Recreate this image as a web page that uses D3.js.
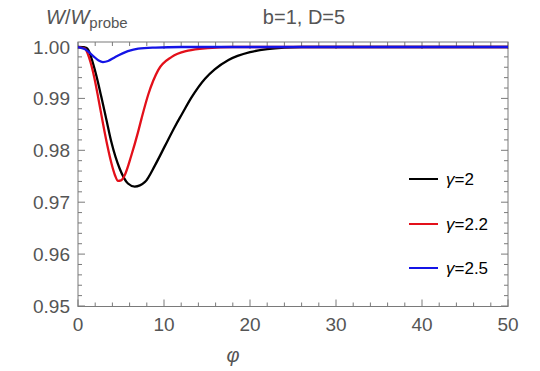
<!DOCTYPE html>
<html>
<head>
<meta charset="utf-8">
<script src="https://cdn.jsdelivr.net/npm/d3@7"></script>
<style>
  body { margin: 0; background: #fff; }
  text { font-family: "Liberation Sans", Arial, sans-serif; }
</style>
</head>
<body>
<script>
'use strict';

// values
const phiG20 = [0, 0.9, 1.3, 1.55, 2.13, 2.71, 3.29, 3.88, 4.84, 5.81, 6.6, 7.79, 8.95, 10.1, 11.28, 12.06, 13.2, 14.77, 15.9, 17.5, 20, 22, 24, 26, 50];
const wG20   = [0.9999, 0.9998, 0.9990, 0.9978, 0.9944, 0.9903, 0.9860, 0.9816, 0.9765, 0.9736, 0.9730, 0.9739, 0.9771, 0.9808, 0.9846, 0.9869, 0.9902, 0.9938, 0.9956, 0.9974, 0.9989, 0.9995, 0.9998, 0.9999, 0.9999];

const phiG22 = [0, 0.8, 1.3, 1.9, 2.4, 2.9, 3.4, 3.9, 4.3, 4.65, 5.0, 5.43, 6.2, 6.98, 7.4, 8.18, 9.34, 10.9, 12.8, 15.1, 18, 50];
const wG22   = [0.9999, 0.9996, 0.9978, 0.9940, 0.9897, 0.9852, 0.9810, 0.9774, 0.9752, 0.9741, 0.9742, 0.9752, 0.9790, 0.9835, 0.9862, 0.9908, 0.9955, 0.9980, 0.9992, 0.9997, 0.9999, 0.9999];

const phiG25 = [0, 0.78, 1.74, 2.4, 2.9, 3.5, 4.26, 5.8, 7.0, 9, 12, 50];
const wG25   = [0.9999, 0.9995, 0.9982, 0.9973, 0.9970, 0.9972, 0.9979, 0.9991, 0.9996, 0.9998, 0.9999, 0.9999];

const seriesNames  = ['γ=2', 'γ=2.2', 'γ=2.5'];
const seriesColors = ['#000000', '#e3101a', '#1414e6'];

const xTicks = [0, 10, 20, 30, 40, 50];
const yTicks = [0.95, 0.96, 0.97, 0.98, 0.99, 1.00];

const W = 540, H = 371;
const plot = {left: 78, right: 508, top: 42, bottom: 306.5};

const svg = d3.select('body').append('svg')
  .attr('width', W)
  .attr('height', H);

const x = d3.scaleLinear().domain([0, 50]).range([plot.left, plot.right]);
const y = d3.scaleLinear().domain([0.95, 1.0]).range([306, 46.5]);

const frameColor = '#7a7a7a';
const labelColor = '#555555';

// frame
svg.append('rect')
  .attr('x', plot.left).attr('y', plot.top)
  .attr('width', plot.right - plot.left)
  .attr('height', plot.bottom - plot.top)
  .attr('fill', 'none')
  .attr('stroke', frameColor)
  .attr('stroke-width', 1);

// ticks, inward on all four sides
const xMinor = d3.range(0, 50.001, 2).filter(v => v % 10 !== 0);
const yMinor = d3.range(0, 26).map(i => 0.95 + i * 0.002).filter((v, i) => i % 5 !== 0);

function tickLines(vals, len, horizontal) {
  vals.forEach(v => {
    if (horizontal) {
      const px = x(v);
      svg.append('line').attr('x1', px).attr('x2', px).attr('y1', plot.bottom).attr('y2', plot.bottom - len)
        .attr('stroke', frameColor).attr('stroke-width', 1);
      svg.append('line').attr('x1', px).attr('x2', px).attr('y1', plot.top).attr('y2', plot.top + len)
        .attr('stroke', frameColor).attr('stroke-width', 1);
    } else {
      const py = y(v);
      svg.append('line').attr('x1', plot.left).attr('x2', plot.left + len).attr('y1', py).attr('y2', py)
        .attr('stroke', frameColor).attr('stroke-width', 1);
      svg.append('line').attr('x1', plot.right).attr('x2', plot.right - len).attr('y1', py).attr('y2', py)
        .attr('stroke', frameColor).attr('stroke-width', 1);
    }
  });
}
tickLines(xTicks, 7, true);
tickLines(xMinor, 4, true);
tickLines(yTicks, 7, false);
tickLines(yMinor, 4, false);

// tick labels
svg.selectAll('.xlab').data(xTicks).enter().append('text')
  .attr('x', d => x(d))
  .attr('y', 331)
  .attr('text-anchor', 'middle')
  .attr('fill', labelColor)
  .style('font-size', '19px')
  .text(d => d);

svg.selectAll('.ylab').data(yTicks).enter().append('text')
  .attr('x', 70)
  .attr('y', d => y(d) + 7)
  .attr('text-anchor', 'end')
  .attr('fill', labelColor)
  .style('font-size', '19px')
  .text(d => d3.format('.2f')(d));

// curves
const line = d3.line()
  .x(d => x(d[0]))
  .y(d => y(d[1]))
  .curve(d3.curveMonotoneX);

const series = [
  d3.zip(phiG20, wG20),
  d3.zip(phiG22, wG22),
  d3.zip(phiG25, wG25)
];

svg.append('clipPath').attr('id', 'clip')
  .append('rect')
  .attr('x', plot.left).attr('y', plot.top)
  .attr('width', plot.right - plot.left)
  .attr('height', plot.bottom - plot.top);

series.forEach((s, i) => {
  svg.append('path')
    .datum(s)
    .attr('d', line)
    .attr('fill', 'none')
    .attr('stroke', seriesColors[i])
    .attr('stroke-width', 2.3)
    .attr('clip-path', 'url(#clip)');
});

// legend
const legendY = [179, 224, 268];
seriesNames.forEach((name, i) => {
  svg.append('line')
    .attr('x1', 409).attr('x2', 438)
    .attr('y1', legendY[i]).attr('y2', legendY[i])
    .attr('stroke', seriesColors[i])
    .attr('stroke-width', 2);
  const t = svg.append('text')
    .attr('x', 446)
    .attr('y', legendY[i] + 6)
    .attr('fill', '#000')
    .style('font-size', '17px');
  t.append('tspan').style('font-style', 'italic').text(name.slice(0, 1));
  t.append('tspan').text(name.slice(1));
});

// title and axis labels
svg.append('text')
  .attr('x', 304)
  .attr('y', 24)
  .attr('text-anchor', 'middle')
  .attr('fill', labelColor)
  .style('font-size', '20px')
  .text('b=1, D=5');

const yl = svg.append('text')
  .attr('x', 46)
  .attr('y', 24)
  .attr('fill', labelColor)
  .style('font-size', '20px');
yl.append('tspan').style('font-style', 'italic').text('W');
yl.append('tspan').text('/');
yl.append('tspan').style('font-style', 'italic').text('W');
yl.append('tspan').attr('dy', 4).style('font-size', '15px').text('probe');

svg.append('text')
  .attr('x', 233)
  .attr('y', 362)
  .attr('text-anchor', 'middle')
  .attr('fill', labelColor)
  .style('font-size', '20px')
  .style('font-style', 'italic')
  .text('φ');
</script>
</body>
</html>
